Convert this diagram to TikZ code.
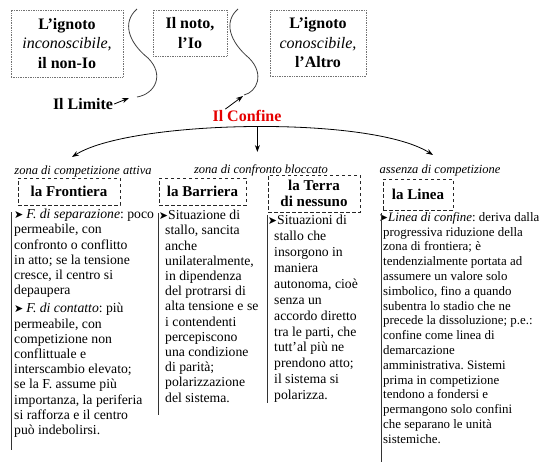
\documentclass[tikz,border=0pt]{standalone}
\usepackage{fontspec}
\setmainfont{Liberation Serif}
\newfontfamily\dvsans{DejaVu Sans}
\usetikzlibrary{arrows.meta}
\newcommand{\pfeil}{{\dvsans\fontsize{11}{11}\selectfont ➤}}

\begin{document}
\begin{tikzpicture}[x=1pt,y=-1pt,
   topbox/.style={draw=black!55,densely dotted,line width=0.7pt,align=center,
      font=\fontsize{16}{19.5}\selectfont\bfseries,inner sep=0pt},
   headbox/.style={draw=black!85,line width=0.9pt,dash pattern=on 3.5pt off 2.5pt,
      align=center,font=\fontsize{15}{16.5}\selectfont\bfseries,inner sep=0pt},
   zone/.style={font=\fontsize{12.5}{14}\selectfont\itshape,inner sep=0pt},
   coltext/.style={anchor=north west,align=left,inner sep=0pt,
      font=\fontsize{13.7}{15.2}\selectfont\frenchspacing},
   colrule/.style={line width=1pt,black!80},
   wiggle/.style={line width=0.8pt,black!75},
   pointer/.style={-{Stealth[length=7pt,width=5pt]},line width=0.8pt},
   tag/.style={font=\fontsize{16}{16}\selectfont\bfseries,inner sep=1pt}]
\useasboundingbox (0,0) rectangle (541,461);

\node[topbox,minimum width=112pt,minimum height=67pt] (ignoto) at (67,43.5)
   {L’ignoto\\{\mdseries\itshape inconoscibile,}\\il non-Io};
\node[topbox,minimum width=74pt,minimum height=46pt] (noto) at (190,33)
   {Il noto,\\l’Io};
\node[topbox,minimum width=96pt,minimum height=66pt] (altro) at (318,43)
   {L’ignoto\\{\mdseries\itshape conoscibile,}\\l’Altro};

\draw[wiggle] (137,9) .. controls (122,22) and (128,42) .. (148,58)
   .. controls (165,75) and (155,94) .. (137,97);
\draw[wiggle] (238,9) .. controls (223,22) and (230,42) .. (249,58)
   .. controls (265,74) and (257,92) .. (244,95);

\node[tag] (limite) at (83,104) {Il Limite};
\coordinate (limtip) at (129,98);
\draw[pointer] (limite.east) -- (limtip);

\node[tag,text=red!90!black] (confine) at (247,116) {Il Confine};
\coordinate (contip) at (243,96);
\draw[pointer] ([xshift=14pt]confine.north west) -- (contip);

\node[zone] (zca) at (83,171) {zona di competizione attiva};
\node[zone] (zcb) at (261,170) {zona di confronto bloccato};
\node[zone] (ac) at (440,170) {assenza di competizione};

\coordinate (aL) at (72,157);
\coordinate (aR) at (433,155);
\coordinate (mtip) at (257,152);
\draw[{Stealth[length=7pt,width=5pt]}-{Stealth[length=7pt,width=5pt]},line width=0.8pt]
   (aL) .. controls (130,120) and (370,115) .. (aR) coordinate[pos=0.515] (arctop);
\draw[pointer] (arctop) -- (arctop |- mtip);

\node[headbox,minimum width=102pt,minimum height=27pt] (front) at (69,191.5) {la Frontiera};
\node[headbox,minimum width=87pt,minimum height=27pt] (barr) at (202.5,191.5) {la Barriera};
\node[headbox,minimum width=92pt,minimum height=37pt] (terra) at (314,193.5) {la Terra\\di nessuno};
\node[headbox,minimum width=70pt,minimum height=31pt] (linea) at (418,194.5) {la Linea};

\node[coltext] (c1) at (14,209) {\pfeil\hspace{3pt}\textit{F. di separazione}: poco\\
   permeabile, con\\ confronto o conflitto\\ in atto; se la tensione\\
   cresce, il centro si\\ depaupera\\[3pt]
   \pfeil\hspace{3pt}\textit{F. di contatto}: più\\ permeabile, con\\ competizione non\\
   conflittuale e\\ interscambio elevato;\\ se la F. assume più\\
   importanza, la periferia\\ si rafforza e il centro\\ può indebolirsi.};
\node[coltext] (c2) at (165,210) {\makebox[3pt][r]{\pfeil}Situazione di\\
   stallo, sancita\\ anche\\ unilateralmente,\\ in dipendenza\\ del protrarsi di\\
   alta tensione e se\\ i contendenti\\ percepiscono\\ una condizione\\
   di parità;\\ polarizzazione\\ del sistema.};
\node[coltext,font=\fontsize{13.7}{15.9}\selectfont\frenchspacing] (c3) at (274,215) {\makebox[3pt][r]{\pfeil}Situazioni di\\
   stallo che\\ insorgono in\\ maniera\\ autonoma, cioè\\ senza un\\
   accordo diretto\\ tra le parti, che\\ tutt’al più ne\\ prendono atto;\\
   il sistema si\\ polarizza.};
\node[coltext,font=\fontsize{12.9}{14.8}\selectfont\frenchspacing] (c4) at (383,212) {\makebox[5pt][r]{\pfeil}\textit{Linea di confine}: deriva dalla\\
   progressiva riduzione della\\ zona di frontiera; è\\ tendenzialmente portata ad\\
   assumere un valore solo\\ simbolico, fino a quando\\ subentra lo stadio che ne\\
   precede la dissoluzione; p.e.:\\ confine come linea di\\ demarcazione\\
   amministrativa. Sistemi\\ prima in competizione\\ tendono a fondersi e\\
   permangono solo confini\\ che separano le unità\\ sistemiche.};

\draw[colrule] (c1.north west) ++(-3,3) -- ++(0,238);
\draw[colrule] (c2.north west) ++(-7,3) -- ++(0,202);
\draw[colrule] (c3.north west) ++(-7,0) -- ++(0,188);
\draw[colrule] (c4.north west) ++(-2,1) -- ++(0,250);
\end{tikzpicture}
\end{document}
